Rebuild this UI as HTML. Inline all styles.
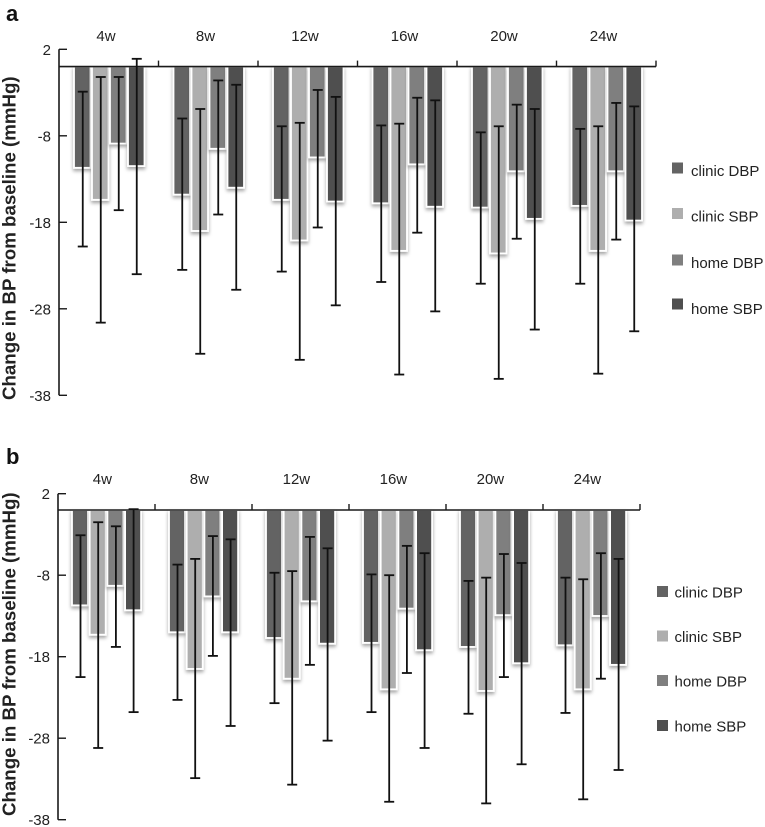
<!DOCTYPE html>
<html lang="en">
<head>
<meta charset="utf-8">
<title>Change in BP from baseline</title>
<style>
html,body{margin:0;padding:0;background:#fff;width:765px;height:827px;overflow:hidden}
svg{display:block}
text{font-family:"Liberation Sans",Arial,sans-serif;fill:#222}
</style>
</head>
<body>
<svg id="chart" xmlns="http://www.w3.org/2000/svg" width="765" height="827" viewBox="0 0 765 827">
<defs>
<filter id="barShadow" x="-30%" y="-10%" width="160%" height="125%">
<feDropShadow dx="0" dy="2.5" stdDeviation="1.8" flood-color="#000" flood-opacity="0.35"/>
</filter>
</defs>
</svg>
<script>
const weeks = ['4w', '8w', '12w', '16w', '20w', '24w'];
const seriesNames = ['clinic DBP', 'clinic SBP', 'home DBP', 'home SBP'];
const yTicks = [2, -8, -18, -28, -38];

const meansA = [
  [-11.7, -15.4, -8.9, -11.5],
  [-14.8, -19.0, -9.5, -14.0],
  [-15.4, -20.1, -10.5, -15.6],
  [-15.8, -21.3, -11.3, -16.2],
  [-16.3, -21.6, -12.1, -17.6],
  [-16.1, -21.3, -12.1, -17.8]
];
const upperA = [
  [-2.9, -1.2, -1.2, 0.9],
  [-6.0, -4.9, -1.6, -2.1],
  [-6.9, -6.5, -2.7, -3.5],
  [-6.8, -6.6, -3.6, -3.9],
  [-7.6, -6.9, -4.4, -4.9],
  [-7.2, -6.9, -4.2, -4.6]
];
const lowerA = [
  [-20.8, -29.6, -16.6, -24.0],
  [-23.5, -33.2, -17.1, -25.8],
  [-23.7, -33.9, -18.6, -27.6],
  [-24.9, -35.6, -19.2, -28.3],
  [-25.1, -36.1, -19.9, -30.4],
  [-25.1, -35.5, -20.0, -30.6]
];

const meansB = [
  [-11.7, -15.3, -9.3, -12.3],
  [-15.0, -19.5, -10.6, -15.0],
  [-15.7, -20.7, -11.2, -16.4],
  [-16.3, -22.0, -12.1, -17.2],
  [-16.8, -22.2, -12.9, -18.8],
  [-16.6, -22.0, -13.0, -19.0]
];
const upperB = [
  [-3.1, -1.5, -2.0, 0.1],
  [-6.7, -6.0, -3.2, -3.6],
  [-7.7, -7.5, -3.3, -4.7],
  [-7.9, -8.0, -4.4, -5.3],
  [-8.7, -8.3, -5.4, -6.5],
  [-8.3, -8.5, -5.3, -6.0]
];
const lowerB = [
  [-20.5, -29.2, -16.8, -24.8],
  [-23.3, -32.9, -17.9, -26.5],
  [-23.7, -33.7, -19.0, -28.3],
  [-24.8, -35.8, -20.0, -29.2],
  [-25.0, -36.0, -20.5, -31.2],
  [-24.9, -35.5, -20.7, -31.9]
];

const svg = document.getElementById('chart');
const NS = 'http://www.w3.org/2000/svg';
const barFill = ['#636363', '#aeaeae', '#7f7f7f', '#4f4f4f'];

function mk(tag, attrs, parent) {
  const el = document.createElementNS(NS, tag);
  for (const k in attrs) el.setAttribute(k, attrs[k]);
  parent.appendChild(el);
  return el;
}
function slug(s) { return s.toLowerCase().replace(/\s+/g, '-'); }

function drawPanel(cfg) {
  const g = mk('g', {}, svg);
  
  
  const y = v => cfg.zero - v * cfg.scale;
  const groupW = (cfg.xEnd - cfg.x0) / weeks.length;
  const gx = i => cfg.x0 + i * groupW;

  const label = mk('text', {x: 6, y: cfg.labelY, 'font-size': 22, 'font-weight': 'bold'}, g);
  label.textContent = cfg.id;
  label.style.fill = '#111';
  
  

  const title = mk('text', {
    transform: 'translate(15.5,' + cfg.titleY + ') rotate(-90)',
    'font-size': cfg.titleSize, 'font-weight': 'bold', 'text-anchor': 'start'
  }, g);
  title.textContent = 'Change in BP from baseline (mmHg)';
  
  

  // bars (drawn first, axis on top)
  weeks.forEach((w, i) => {
    seriesNames.forEach((s, j) => {
      const bx = gx(i) + cfg.barOffset + j * cfg.barPitch;
      const top = y(0);
      const bar = mk('rect', {
        x: bx, y: top, width: cfg.barW, height: y(cfg.means[i][j]) - top,
        fill: barFill[j], stroke: '#fff', 'stroke-width': 1.8, filter: 'url(#barShadow)'
      }, g);
      
      
    });
  });

  // y axis
  const yAxis = mk('line', {x1: cfg.x0, x2: cfg.x0, y1: y(yTicks[0]), y2: y(yTicks[yTicks.length - 1]), stroke: '#1a1a1a', 'stroke-width': 1.6}, g);
  
  
  yTicks.forEach(t => {
    const tick = mk('line', {x1: cfg.x0, x2: cfg.x0 + 8, y1: y(t), y2: y(t), stroke: '#1a1a1a', 'stroke-width': 1.4}, g);
    
    
    const tl = mk('text', {x: cfg.x0 - 8, y: y(t) + 5.5, 'font-size': 15, 'text-anchor': 'end'}, g);
    tl.textContent = String(t);
    
    
  });

  // x axis at zero
  const xAxis = mk('line', {x1: cfg.x0, x2: cfg.xEnd, y1: y(0), y2: y(0), stroke: '#1a1a1a', 'stroke-width': 1.6}, g);
  
  
  weeks.forEach((w, i) => {
    const tx = gx(i + 1);
    const tick = mk('line', {x1: tx, x2: tx, y1: y(0), y2: y(0) - 6, stroke: '#1a1a1a', 'stroke-width': 1.4}, g);
    
    
    const wl = mk('text', {x: gx(i) + cfg.barOffset + 2 * cfg.barPitch - 1 - cfg.labelShift, y: cfg.weekY, 'font-size': 15, 'text-anchor': 'middle'}, g);
    wl.textContent = w;
    
    
  });

  // error bars
  weeks.forEach((w, i) => {
    seriesNames.forEach((s, j) => {
      const cx = gx(i) + cfg.barOffset + j * cfg.barPitch + cfg.barW / 2 + 0.5;
      const t = y(cfg.upper[i][j]);
      const b = y(cfg.lower[i][j]);
      const eg = mk('g', {stroke: '#111', 'stroke-width': 1.8}, g);
      
      
      mk('line', {x1: cx, x2: cx, y1: t, y2: b}, eg);
      mk('line', {x1: cx - 5, x2: cx + 5, y1: t, y2: t}, eg);
      mk('line', {x1: cx - 5, x2: cx + 5, y1: b, y2: b}, eg);
    });
  });

  // legend
  seriesNames.forEach((s, j) => {
    const lg = mk('g', {}, g);
    
    
    const ly = cfg.legendY[j];
    mk('rect', {x: cfg.legendX, y: ly - 5.5, width: 11, height: 11, fill: barFill[j]}, lg);
    const lt = mk('text', {x: cfg.legendX + cfg.legendTextDx, y: cfg.legendTextY[j], 'font-size': 15}, lg);
    lt.textContent = s;
  });
}

drawPanel({
  id: 'a', zero: 66.6, scale: 8.65, x0: 59, xEnd: 656,
  barOffset: 15, barPitch: 18, barW: 16.5, labelY: 21, titleY: 400, titleSize: 18.7, weekY: 41, labelShift: 3,
  means: meansA, upper: upperA, lower: lowerA,
  legendX: 672, legendY: [168, 213.5, 260, 304], legendTextDx: 19, legendTextY: [176, 221.5, 268, 314]
});
drawPanel({
  id: 'b', zero: 510, scale: 8.15, x0: 58, xEnd: 640,
  barOffset: 14, barPitch: 17.7, barW: 16, labelY: 464, titleY: 816, titleSize: 18.7, weekY: 484, labelShift: 4,
  means: meansB, upper: upperB, lower: lowerB,
  legendX: 657, legendY: [591.5, 636, 680.5, 725.5], legendTextDx: 17.5, legendTextY: [597.5, 642, 686.5, 731.5]
});
</script>
</body>
</html>
